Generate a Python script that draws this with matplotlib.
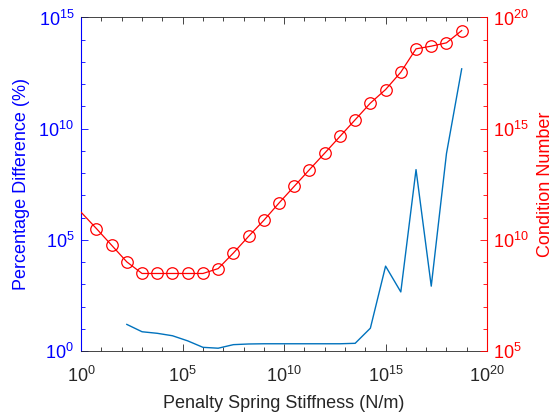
import matplotlib
matplotlib.use("Agg")
import matplotlib.pyplot as plt
import numpy as np
from matplotlib.ticker import FixedLocator, FixedFormatter, NullFormatter

plt.rcParams['font.family'] = ['Liberation Sans', 'DejaVu Sans']

# Stiffness exponents (log10 of N/m)
stiff_exp_cond = [0, 0.75, 1.5, 2.25, 3.0, 3.75, 4.5, 5.25, 6.0, 6.75, 7.5, 8.25, 9.0, 9.75,
                  10.5, 11.25, 12.0, 12.75, 13.5, 14.25, 15.0, 15.75, 16.5, 17.25, 18.0, 18.75]
# log10 of condition number
cond_exp = [11.24, 10.51, 9.76, 9.01, 8.49, 8.49, 8.49, 8.49, 8.49, 8.71, 9.41, 10.16, 10.88, 11.66,
            12.41, 13.16, 13.90, 14.65, 15.40, 16.15, 16.76, 17.54, 18.59, 18.71, 18.86, 19.41]

stiff_exp_diff = [2.25, 3.0, 3.75, 4.5, 5.25, 6.0, 6.75, 7.5, 8.25, 9.0, 9.75, 10.5, 11.25, 12.0,
                  12.75, 13.5, 14.25, 15.0, 15.75, 16.5, 17.25, 18.0, 18.75]
# log10 of percentage difference
diff_exp = [1.20, 0.87, 0.80, 0.69, 0.46, 0.17, 0.13, 0.29, 0.32, 0.33, 0.33, 0.33, 0.33, 0.33,
            0.33, 0.35, 1.03, 3.82, 2.66, 8.16, 2.92, 8.88, 12.69]

x_label = "Penalty Spring Stiffness (N/m)"
yl_label = "Percentage Difference (%)"
yr_label = "Condition Number"

x_major = [0, 5, 10, 15, 20]
yl_major = [0, 5, 10, 15]
yr_major = [5, 10, 15, 20]

blue_axis = (0, 0, 1)
blue_line = (0, 0.447, 0.741)
red = (1, 0, 0)
gray = (0.15, 0.15, 0.15)

fig = plt.figure(figsize=(5.56, 4.16), dpi=100)
ax = fig.add_axes([0.146, 0.156, 0.730, 0.802])
ax2 = ax.twinx()

xs_c = [10 ** e for e in stiff_exp_cond]
ys_c = [10 ** e for e in cond_exp]
xs_d = [10 ** e for e in stiff_exp_diff]
ys_d = [10 ** e for e in diff_exp]

ax.plot(xs_d, ys_d, color=blue_line, lw=1.0)
ax2.plot(xs_c, ys_c, color=red, lw=0.9, marker='o', mfc='none', mec=red, ms=8.3, mew=0.9,
         markevery=list(range(1, len(xs_c))))

for a in (ax, ax2):
    a.set_xscale('log')
    a.set_yscale('log')
    a.set_xlim(1e0, 1e20)

ax.set_ylim(1e0, 1e15)
ax2.set_ylim(1e5, 1e20)

def fmt(es):
    return [r'$\mathregular{10^{%d}}$' % e for e in es]

fs = 13
ax.xaxis.set_major_locator(FixedLocator([10.0 ** e for e in x_major]))
ax.xaxis.set_major_formatter(FixedFormatter(fmt(x_major)))
ax.xaxis.set_minor_locator(FixedLocator([10.0 ** e for e in range(0, 21)]))
ax.xaxis.set_minor_formatter(NullFormatter())

ax.yaxis.set_major_locator(FixedLocator([10.0 ** e for e in yl_major]))
ax.yaxis.set_major_formatter(FixedFormatter(fmt(yl_major)))
ax.yaxis.set_minor_locator(FixedLocator([10.0 ** e for e in range(0, 16)]))
ax.yaxis.set_minor_formatter(NullFormatter())

ax2.yaxis.set_major_locator(FixedLocator([10.0 ** e for e in yr_major]))
ax2.yaxis.set_major_formatter(FixedFormatter(fmt(yr_major)))
ax2.yaxis.set_minor_locator(FixedLocator([10.0 ** e for e in range(5, 21)]))
ax2.yaxis.set_minor_formatter(NullFormatter())

ax.tick_params(axis='x', which='both', direction='in', top=True, bottom=True, colors=gray,
               labelsize=fs, width=0.6)
ax.tick_params(axis='x', which='major', length=5, pad=11)
ax.tick_params(axis='x', which='minor', length=3)
ax.tick_params(axis='y', which='both', direction='in', left=True, right=False, colors=blue_axis,
               labelsize=fs, width=0.6)
ax.tick_params(axis='y', which='major', length=5, pad=5)
ax.tick_params(axis='y', which='minor', length=3)
ax2.tick_params(axis='y', which='both', direction='in', right=True, left=False, colors=red,
                labelsize=fs, width=0.6)
ax2.tick_params(axis='y', which='major', length=5, pad=4)
ax2.tick_params(axis='y', which='minor', length=3)
ax2.tick_params(axis='x', which='both', bottom=False, top=False, labelbottom=False)

for s in ('top', 'bottom'):
    ax.spines[s].set_color(gray)
    ax.spines[s].set_linewidth(0.6)
    ax2.spines[s].set_visible(False)
ax.spines['left'].set_color(blue_axis)
ax.spines['left'].set_linewidth(0.8)
ax.spines['right'].set_visible(False)
ax2.spines['left'].set_visible(False)
ax2.spines['right'].set_color(red)
ax2.spines['right'].set_linewidth(0.8)

ax.set_xlabel(x_label, fontsize=fs, color=gray, labelpad=6)
ax.set_ylabel(yl_label, fontsize=fs, color=blue_axis, labelpad=6)
ax2.set_ylabel(yr_label, fontsize=fs, color=red, labelpad=6)

fig.savefig('out.png', dpi=100)
